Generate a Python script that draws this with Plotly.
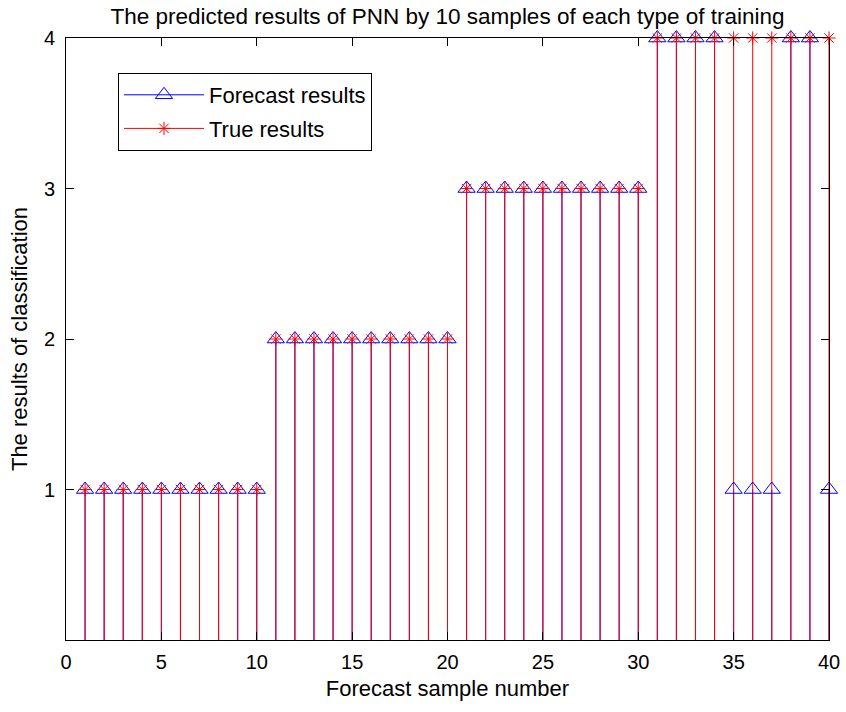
import plotly.graph_objects as go

samples = list(range(1, 41))
forecast = [1]*10 + [2]*10 + [3]*10 + [4, 4, 4, 4, 1, 1, 1, 4, 4, 1]
true_vals = [1]*10 + [2]*10 + [3]*10 + [4]*10

x_ticks = [0, 5, 10, 15, 20, 25, 30, 35, 40]
y_ticks = [1, 2, 3, 4]

BLUE = "rgb(0,0,255)"
RED = "rgb(255,0,0)"


def stems(xs, ys):
    sx, sy = [], []
    for a, b in zip(xs, ys):
        sx += [a, a, None]
        sy += [0, b, None]
    return sx, sy


fig = go.Figure()
bx, by = stems(samples, forecast)
rx, ry = stems(samples, true_vals)
fig.add_trace(go.Scatter(x=bx, y=by, mode="lines", line=dict(color=BLUE, width=1),
                         showlegend=False, hoverinfo="skip"))
fig.add_trace(go.Scatter(x=rx, y=ry, mode="lines", line=dict(color=RED, width=1),
                         showlegend=False, hoverinfo="skip"))

tri = dict(symbol="triangle-up-open", size=15, color=BLUE, line=dict(width=1, color=BLUE))
ast = dict(symbol="asterisk-open", size=11, color=RED, line=dict(width=1, color=RED))

fig.add_trace(go.Scatter(x=samples, y=forecast, mode="markers", marker=tri,
                         showlegend=False, cliponaxis=False))
fig.add_trace(go.Scatter(x=samples, y=true_vals, mode="markers", marker=ast,
                         showlegend=False, cliponaxis=False))
# legend entries
fig.add_trace(go.Scatter(x=[None], y=[None], mode="lines+markers", name="Forecast results",
                         line=dict(color=BLUE, width=1), marker=tri, legendgroup="a"))
fig.add_trace(go.Scatter(x=[None], y=[None], mode="lines+markers", name="True results",
                         line=dict(color=RED, width=1), marker=ast, legendgroup="b"))

FONT = "Liberation Sans, Arial, sans-serif"
fig.update_layout(
    width=846, height=712,
    margin=dict(l=66, r=17, t=38, b=72),
    paper_bgcolor="white", plot_bgcolor="white",
    font=dict(family=FONT, size=20, color="black"),
    title=dict(text="The predicted results of PNN by 10 samples of each type of training",
               x=(66 + 829) / 2 / 846, xanchor="center", xref="container",
               y=1 - 16 / 712, yref="container", yanchor="middle",
               font=dict(size=22.5)),
    showlegend=True,
    legend=dict(x=(118 - 66) / 763, y=(640 - 73) / 602, xanchor="left", yanchor="top",
                bgcolor="white", bordercolor="black", borderwidth=1,
                font=dict(size=22), itemwidth=80, tracegroupgap=2,
                traceorder="grouped"),
)
fig.update_xaxes(range=[0, 40], tickvals=x_ticks, ticks="inside", ticklen=8, tickcolor="black",
                 showline=True, linecolor="black", linewidth=1, mirror="ticks", showgrid=False,
                 zeroline=False, automargin=False, ticklabelstandoff=4,
                 title=dict(text="Forecast sample number", standoff=8, font=dict(size=22)))
fig.update_yaxes(range=[0, 4], tickvals=y_ticks, ticks="inside", ticklen=8, tickcolor="black",
                 showline=True, linecolor="black", linewidth=1, mirror="ticks", showgrid=False,
                 zeroline=False, automargin=False, ticklabelstandoff=6,
                 title=dict(text="The results of classification", standoff=10, font=dict(size=22)))
fig.write_html("out.html")
